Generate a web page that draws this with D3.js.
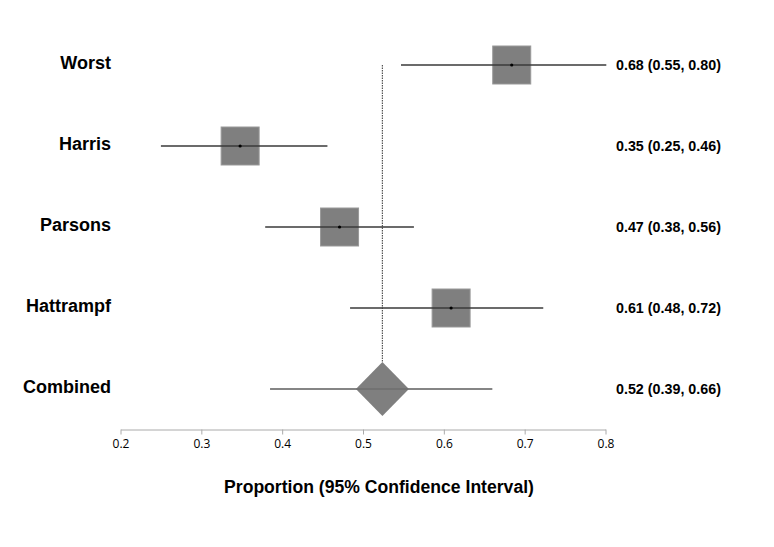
<!DOCTYPE html>
<html>
<head>
<meta charset="utf-8">
<script src="https://cdn.jsdelivr.net/npm/d3@7"></script>
<style>
  html, body { margin: 0; padding: 0; background: #fff; }
  svg { display: block; }
</style>
</head>
<body>
<svg id="chart" width="774" height="547"></svg>
<script>
// ---- data ----
const studies = ["Worst", "Harris", "Parsons", "Hattrampf", "Combined"];
const estimates = [0.684, 0.348, 0.471, 0.609, 0.524];
const lowers = [0.547, 0.250, 0.379, 0.484, 0.385];
const uppers = [0.801, 0.456, 0.563, 0.723, 0.660];
const valueLabels = ["0.68 (0.55, 0.80)", "0.35 (0.25, 0.46)", "0.47 (0.38, 0.56)", "0.61 (0.48, 0.72)", "0.52 (0.39, 0.66)"];
const xTicks = [0.2, 0.3, 0.4, 0.5, 0.6, 0.7, 0.8];
const xTitle = "Proportion (95% Confidence Interval)";

// ---- layout ----
const svg = d3.select("#chart");
const x = d3.scaleLinear().domain([0.2, 0.8]).range([120.5, 605.5]);
const y = d3.scalePoint().domain(studies).range([65, 389]);
const axisY = 429.5;
const boxSize = 38;
const diamondHalfW = 26.5, diamondHalfH = 27;
const pooled = studies.length - 1;

// reference (dotted) line at combined estimate
svg.append("line")
  .attr("x1", x(estimates[pooled])).attr("x2", x(estimates[pooled]))
  .attr("y1", y(studies[0])).attr("y2", y(studies[pooled]) - diamondHalfH)
  .attr("stroke", "#555").attr("stroke-width", 1.2)
  .attr("stroke-dasharray", "1.5,1");

// individual studies
studies.forEach((s, i) => {
  const cy = y(s);
  if (i === pooled) {
    const cx = x(estimates[i]);
    svg.append("path")
      .attr("d", `M${cx},${cy - diamondHalfH}L${cx + diamondHalfW},${cy}L${cx},${cy + diamondHalfH}L${cx - diamondHalfW},${cy}Z`)
      .attr("fill", "#7f7f7f");
    svg.append("line")
      .attr("x1", x(lowers[i])).attr("x2", x(uppers[i]))
      .attr("y1", cy).attr("y2", cy)
      .attr("stroke", "#707070").attr("stroke-width", 2).attr("stroke-opacity", 0.85);
  } else {
    svg.append("rect")
      .attr("x", x(estimates[i]) - boxSize / 2).attr("y", cy - boxSize / 2)
      .attr("width", boxSize).attr("height", boxSize)
      .attr("fill", "#7f7f7f").attr("stroke", "#999").attr("stroke-width", 1);
    svg.append("line")
      .attr("x1", x(lowers[i])).attr("x2", x(uppers[i]))
      .attr("y1", cy).attr("y2", cy)
      .attr("stroke", "#3a3a3a").attr("stroke-width", 1.3);
    svg.append("circle")
      .attr("cx", x(estimates[i])).attr("cy", cy).attr("r", 1.6)
      .attr("fill", "#000");
  }
  svg.append("text")
    .attr("x", 111).attr("y", cy + 4)
    .attr("text-anchor", "end")
    .attr("font-family", "'Liberation Sans', Arial, sans-serif")
    .attr("font-weight", "bold").attr("font-size", 18)
    .attr("fill", "#000")
    .text(s);
  svg.append("text")
    .attr("x", 616).attr("y", cy + 5)
    .attr("font-family", "'Liberation Sans', Arial, sans-serif")
    .attr("font-weight", "bold").attr("font-size", 14.3)
    .attr("fill", "#000")
    .text(valueLabels[i]);
});

// x axis
const axis = d3.axisBottom(x).tickValues(xTicks).tickSize(5).tickSizeOuter(0)
  .tickFormat(d3.format(".1f"));
const g = svg.append("g").attr("transform", `translate(0,${axisY})`).call(axis);
g.select(".domain").attr("stroke", "#aaa");
g.selectAll(".tick line").attr("stroke", "#aaa");
g.selectAll(".tick text")
  .attr("font-family", "'Open Sans', 'DejaVu Sans', sans-serif")
  .attr("font-size", 12).attr("fill", "#000").attr("dy", "0.85em");

svg.append("text")
  .attr("x", 379).attr("y", 493)
  .attr("text-anchor", "middle")
  .attr("font-family", "'Liberation Sans', Arial, sans-serif")
  .attr("font-weight", "bold").attr("font-size", 17.6)
  .attr("fill", "#000")
  .text(xTitle);
</script>
</body>
</html>
